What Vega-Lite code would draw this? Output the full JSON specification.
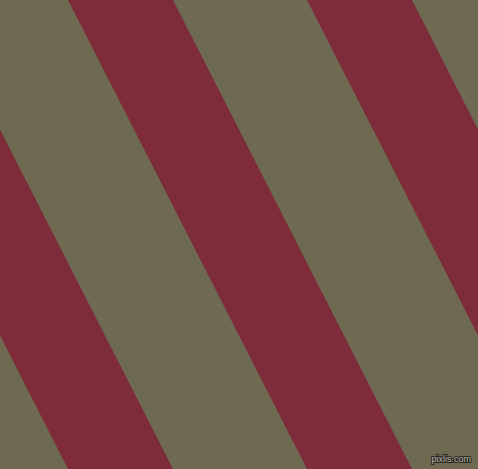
{
  "$schema": "https://vega.github.io/schema/vega-lite/v6.json",
  "width": 478,
  "height": 469,
  "padding": 0,
  "autosize": {"type": "none"},
  "background": "#6e6a51",
  "config": {"view": {"stroke": null}},
  "datasets": {
    "stripes": [
      {"s": 1, "y": 0, "xl": -171, "xr": -66},
      {"s": 1, "y": 469, "xl": 68, "xr": 173},
      {"s": 2, "y": 0, "xl": 68, "xr": 173},
      {"s": 2, "y": 469, "xl": 307, "xr": 412},
      {"s": 3, "y": 0, "xl": 307, "xr": 412},
      {"s": 3, "y": 469, "xl": 546, "xr": 651}
    ],
    "mark": [
      {"label": "pixlis.com", "x": 471, "y": 459}
    ]
  },
  "layer": [
    {
      "data": {"name": "stripes"},
      "mark": {"type": "area", "orient": "horizontal", "clip": true, "fill": "#7e2c3a", "fillOpacity": 1, "interpolate": "linear"},
      "encoding": {
        "y": {"field": "y", "type": "quantitative", "scale": {"domain": [0, 469], "reverse": true, "nice": false, "zero": false}, "axis": null},
        "x": {"field": "xl", "type": "quantitative", "stack": null, "scale": {"domain": [0, 478], "nice": false, "zero": false}, "axis": null},
        "x2": {"field": "xr"},
        "detail": {"field": "s", "type": "nominal"}
      }
    },
    {
      "data": {"name": "mark"},
      "mark": {"type": "text", "align": "right", "baseline": "middle", "font": "Liberation Sans", "fontSize": 9, "stroke": "#2a2820", "strokeWidth": 2, "fill": "#2a2820"},
      "encoding": {
        "x": {"field": "x", "type": "quantitative"},
        "y": {"field": "y", "type": "quantitative"},
        "text": {"field": "label"}
      }
    },
    {
      "data": {"name": "mark"},
      "mark": {"type": "text", "align": "right", "baseline": "middle", "font": "Liberation Sans", "fontSize": 9, "fill": "#b8b8ae"},
      "encoding": {
        "x": {"field": "x", "type": "quantitative"},
        "y": {"field": "y", "type": "quantitative"},
        "text": {"field": "label"}
      }
    }
  ]
}
